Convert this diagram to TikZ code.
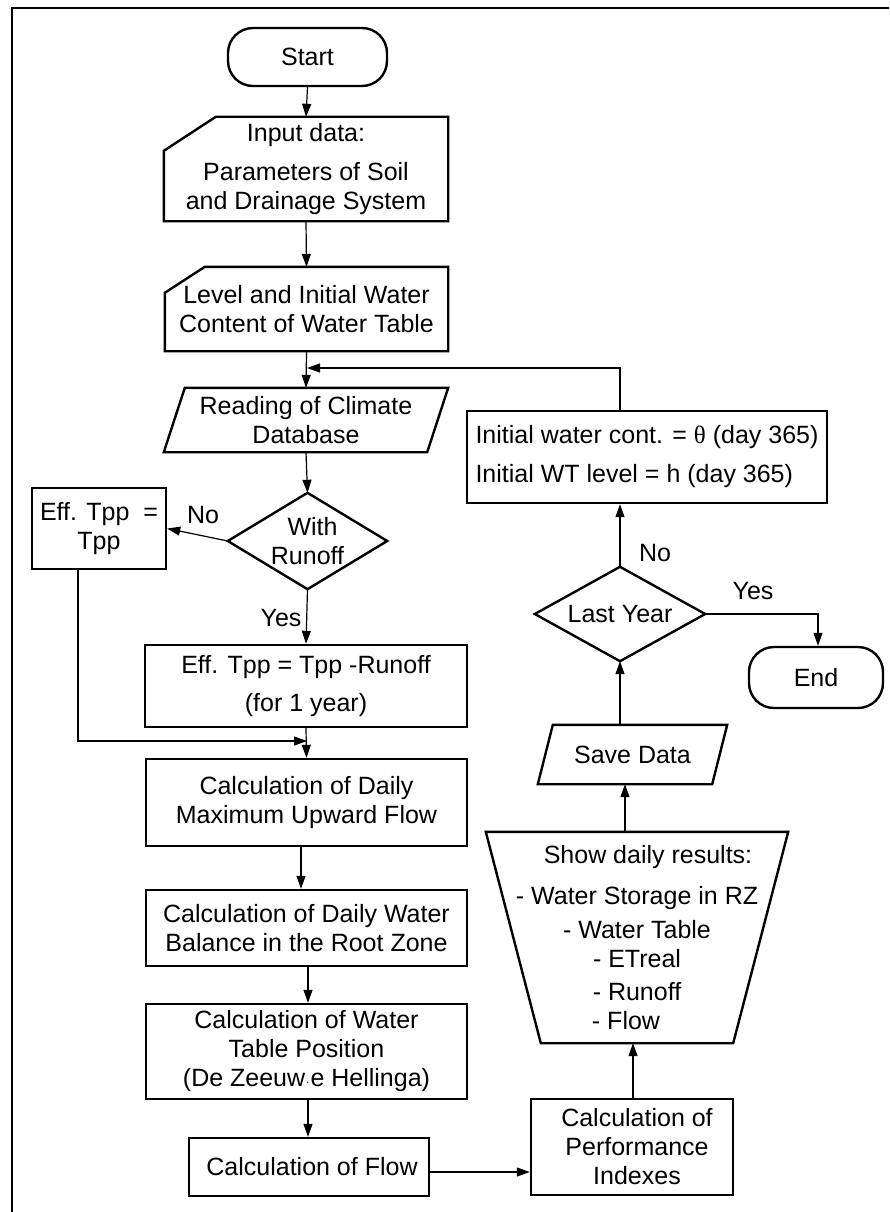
\documentclass[tikz,border=0pt]{standalone}
\usepackage{fontspec}
\setmainfont{Liberation Sans}
\newfontfamily\greekserif{Liberation Serif}
\usetikzlibrary{arrows.meta,calc}
\begin{document}
\begin{tikzpicture}[x=1pt,y=-1pt,
  base/.style={inner sep=0pt, align=center, font=\fontsize{25}{29}\selectfont},
  box/.style={base, draw, line width=2.4pt, rectangle},
  shapeonly/.style={base, draw=none, rectangle},
  terminal/.style={base, draw, line width=2.4pt, rounded corners=25pt},
  outline/.style={line width=2.4pt, line join=miter},
  conn/.style={line width=1.2pt, -{Triangle[length=13pt,width=9pt]}},
  plainline/.style={line width=1.2pt},
  lbl/.style={base, anchor=center}
]
\useasboundingbox (0,0) rectangle (889,1212);
% frame
\draw[line width=1.3pt] (889,8) -- (12,8) -- (12,1212);

% left column
\node[terminal, minimum width=159pt, minimum height=58pt] (start) at (307.5,57) {Start};
\node[shapeonly, minimum width=284pt, minimum height=104pt] (input) at (306,169)
  {Input data:\\[10pt]Parameters of Soil\\and Drainage System};
\node[shapeonly, minimum width=283pt, minimum height=84pt] (level) at (306.5,309)
  {Level and Initial Water\\Content of Water Table};
\node[shapeonly, minimum width=284pt, minimum height=64pt] (reading) at (306,420)
  {Reading of Climate\\Database};
\node[shapeonly, minimum width=159pt, minimum height=96pt] (runoff) at (307.5,541)
  {\hspace*{10pt}With\\Runoff};
\node[box, minimum width=134pt, minimum height=81pt] (effno) at (99,528.5)
  {Eff. Tpp\ \ =\\Tpp};
\node[box, minimum width=322pt, minimum height=82pt] (effyes) at (306,686)
  {Eff. Tpp = Tpp -Runoff\\[9pt](for 1 year)};
\node[box, minimum width=321pt, minimum height=87pt] (daily) at (306.5,802.5)
  {Calculation of Daily\\Maximum Upward Flow};
\node[box, minimum width=321pt, minimum height=76pt] (wb) at (306.5,928)
  {Calculation of Daily Water\\Balance in the Root Zone};
\node[box, minimum width=321pt, minimum height=95pt] (wt) at (306.5,1051.5)
  {Calculation of Water\\Table Position\\(De Zeeuw\kern1pt{\fontsize{10}{10}\selectfont\raisebox{1pt}{·}}\kern1pt e Hellinga)};
\node[box, minimum width=240pt, minimum height=58pt] (flow) at (309,1167)
  {\hspace*{6pt}Calculation of Flow};

% right column
\node[box, minimum width=202pt, minimum height=96pt] (perf) at (632,1147)
  {\hspace*{10pt}Calculation of\\\hspace*{10pt}Performance\\\hspace*{10pt}Indexes};
\node[shapeonly, minimum width=302pt, minimum height=211pt] (show) at (637,937.5)
  {\hspace*{22pt}Show daily results:\\[12pt]- Water Storage in RZ\\[5pt]- Water Table\\- ETreal\hspace*{24pt}\\[4pt]- Runoff\hspace*{24pt}\\- Flow\hspace*{22pt}};
\node[shapeonly, minimum width=189pt, minimum height=59pt] (save) at (632.5,754.5)
  {Save Data};
\node[shapeonly, minimum width=170pt, minimum height=94pt] (lastyear) at (620,614)
  {Last Year};
\node[terminal, minimum width=134pt, minimum height=61pt] (end) at (816,677.5) {End};
\node[box, minimum width=360pt, minimum height=92pt, align=left] (init) at (647,457)
  {Initial water cont. = {\greekserif θ} (day 365)\\[10pt]Initial WT level = h (day 365)};

% custom outlines
\draw[outline] ($(input.north west)+(52,0)$) -- (input.north east) -- (input.south east)
  -- (input.south west) -- ($(input.north west)+(0,34)$) -- cycle;
\draw[outline] ($(level.north west)+(40,0)$) -- (level.north east) -- (level.south east)
  -- (level.south west) -- ($(level.north west)+(0,26)$) -- cycle;
\draw[outline] ($(reading.north west)+(21,0)$) -- (reading.north east)
  -- ($(reading.south east)+(-21,0)$) -- (reading.south west) -- cycle;
\draw[outline] (runoff.north) -- (runoff.east) -- (runoff.south) -- (runoff.west) -- cycle;
\draw[outline] (lastyear.north) -- (lastyear.east) -- (lastyear.south) -- (lastyear.west) -- cycle;
\draw[outline] ($(save.north west)+(15,0)$) -- (save.north east)
  -- ($(save.south east)+(-15,0)$) -- (save.south west) -- cycle;
\draw[outline] (show.north west) -- (show.north east) -- ($(show.south east)+(-55,0)$)
  -- ($(show.south west)+(55,0)$) -- cycle;

% connectors
\draw[conn] (start.south) -- (input.north);
\draw[conn] (input.south) -- (level.north);
\draw[conn] (level.south) -- (reading.north);
\coordinate (fbend) at (307,368);
\draw[conn] (init.north -| lastyear.north) |- (fbend);
\draw[conn] (reading.south) -- (runoff.north);
\draw[conn] (runoff.west) -- (effno.east);
\draw[conn] (runoff.south) -- (effyes.north);
\coordinate (merge) at (307,741);
\draw[conn] ($(effno.south)+(-21,0)$) |- (merge);
\draw[conn] (effyes.south) -- (daily.north);
\draw[conn] ($(daily.south)+(-5.5,0)$) coordinate (d1) -- (d1 |- wb.north);
\draw[conn] ($(wb.south)+(1.5,0)$) coordinate (d2) -- (d2 |- wt.north);
\draw[conn] ($(wt.south)+(1.5,0)$) coordinate (d3) -- (d3 |- flow.north);
\draw[conn] ($(flow.east)+(0,5)$) coordinate (d4) -- (d4 -| perf.west);
\draw[conn] ($(perf.north)+(1,0)$) coordinate (d5) -- (d5 |- show.south);
\draw[conn] ($(show.north)+(-12,0)$) coordinate (d6) -- (d6 |- save.south);
\draw[conn] (save.north -| lastyear.south) -- (lastyear.south);
\draw[conn] (lastyear.north) -- (init.south -| lastyear.north);
\draw[conn] (lastyear.east) -| ($(end.north)+(2,0)$);

% labels
\node[lbl] (lno1) at (203,515) {No};
\node[lbl] (lyes1) at (281,618) {Yes};
\node[lbl] (lno2) at (655,553) {No};
\node[lbl] (lyes2) at (753,591) {Yes};
\end{tikzpicture}
\end{document}
